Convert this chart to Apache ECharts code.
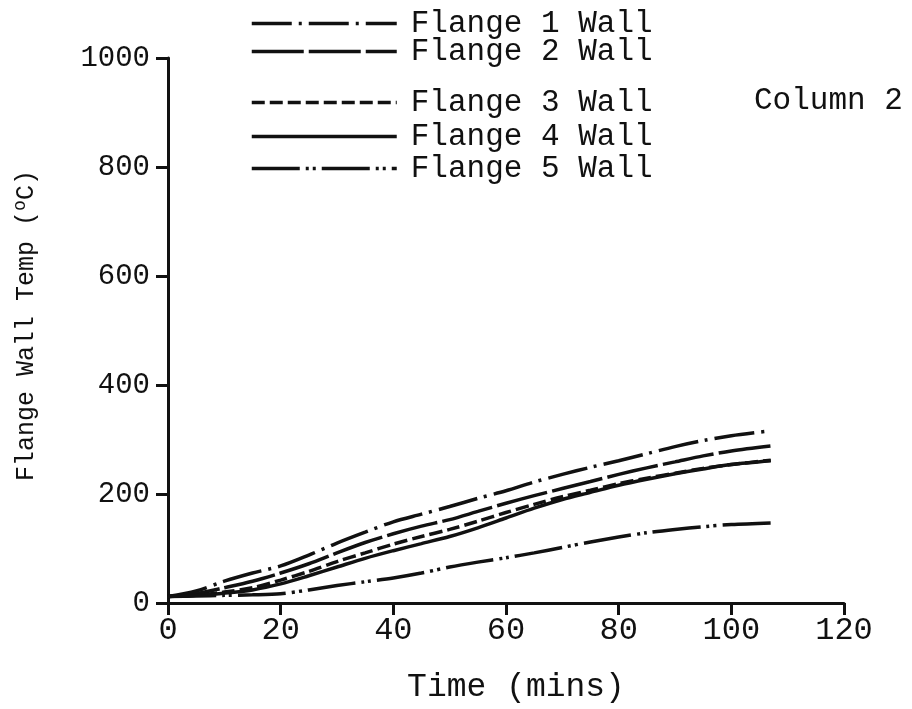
<!DOCTYPE html>
<html>
<head>
<meta charset="utf-8">
<script src="https://cdn.jsdelivr.net/npm/echarts@6/dist/echarts.min.js"></script>
<style>
  html, body { margin: 0; padding: 0; background: #fff; }
  #chart { width: 912px; height: 709px; }
</style>
</head>
<body>
<div id="chart"></div>
<script>
var dom = document.getElementById('chart');
var chart = echarts.init(dom, null, { renderer: 'canvas' });

// time axis (mins)
var times = [0, 5, 10, 15, 20, 25, 30, 35, 40, 45, 50, 55, 60, 65, 70, 75, 80, 85, 90, 95, 100, 107];
var flange1 = [12, 22, 40, 55, 68, 88, 110, 130, 149, 163, 177, 192, 206, 222, 236, 249, 261, 274, 287, 298, 307, 316];
var flange2 = [12, 17, 28, 40, 55, 72, 92, 111, 127, 141, 153, 168, 183, 197, 210, 223, 236, 248, 259, 270, 279, 288];
var flange3 = [12, 14, 20, 28, 42, 58, 76, 92, 108, 122, 135, 150, 166, 181, 195, 207, 219, 229, 238, 247, 254, 262];
var flange4 = [12, 14, 18, 24, 35, 50, 66, 82, 96, 109, 122, 138, 156, 174, 190, 203, 216, 227, 237, 246, 254, 261];
var flange5 = [12, 13, 14, 15, 17, 24, 32, 39, 46, 55, 66, 75, 83, 92, 102, 112, 121, 129, 135, 140, 144, 147];

var names = ['Flange 1 Wall', 'Flange 2 Wall', 'Flange 3 Wall', 'Flange 4 Wall', 'Flange 5 Wall'];
var values = [flange1, flange2, flange3, flange4, flange5];
var dashes = [[40, 7, 3, 7], [52, 5], [13, 5], 'solid', [48, 6, 3, 4, 3, 6]];
var legendTops = [3, 31, 82, 116, 148];

var FONT = 'Liberation Mono';
var ink = '#111';

function pairs(vals) {
  return times.map(function (t, i) { return [t, vals[i]]; });
}

var series = names.map(function (n, i) {
  return {
    name: n,
    type: 'line',
    smooth: 0.3,
    symbol: 'none',
    data: pairs(values[i]),
    lineStyle: { color: ink, width: 3.5, type: dashes[i] },
    itemStyle: { color: ink }
  };
});

var legends = names.map(function (n, i) {
  return {
    data: [n],
    left: 245,
    top: legendTops[i],
    itemWidth: 145,
    itemHeight: 28,
    itemGap: 0,
    selectedMode: false,
    itemStyle: { opacity: 0 },
    lineStyle: { width: 3.5, color: ink, type: dashes[i] },
    textStyle: { fontFamily: FONT, fontSize: 31, color: ink, padding: [0, 0, 0, 9] }
  };
});

var option = {
  animation: false,
  textStyle: { fontFamily: FONT },
  title: {
    text: 'Column 2',
    left: 749,
    top: 80,
    textStyle: { fontFamily: FONT, fontSize: 31, fontWeight: 'normal', color: ink }
  },
  legend: legends,
  grid: { left: 168, right: 68, top: 58, bottom: 101 },
  xAxis: {
    type: 'value',
    min: 0,
    max: 120,
    interval: 20,
    name: 'Time (mins)',
    nameLocation: 'middle',
    nameGap: 68,
    nameTextStyle: { fontFamily: FONT, fontSize: 33, color: ink, padding: [0, 0, 0, 20] },
    splitLine: { show: false },
    axisLine: { lineStyle: { color: ink, width: 3 } },
    axisTick: { inside: false, length: 12, lineStyle: { color: ink, width: 3 } },
    axisLabel: { fontFamily: FONT, fontSize: 32, color: ink, margin: 12 }
  },
  yAxis: {
    type: 'value',
    min: 0,
    max: 1000,
    interval: 200,
    name: 'Flange Wall Temp ({sup|o}C)',
    nameLocation: 'middle',
    nameGap: 127,
    nameRotate: 90,
    nameTextStyle: {
      fontFamily: FONT, fontSize: 25, color: ink, padding: [0, 0, 0, 10],
      rich: { sup: { fontFamily: FONT, fontSize: 18, color: ink, padding: [0, 0, 12, 0] } }
    },
    splitLine: { show: false },
    axisLine: { show: true, lineStyle: { color: ink, width: 3 } },
    axisTick: { show: true, inside: false, length: 12, lineStyle: { color: ink, width: 3 } },
    axisLabel: {
      fontFamily: FONT, fontSize: 29, color: ink, margin: 18,
      formatter: function (v) { return String(v); }
    }
  },
  series: series
};

chart.setOption(option);
window.addEventListener('resize', chart.resize);
</script>
</body>
</html>
